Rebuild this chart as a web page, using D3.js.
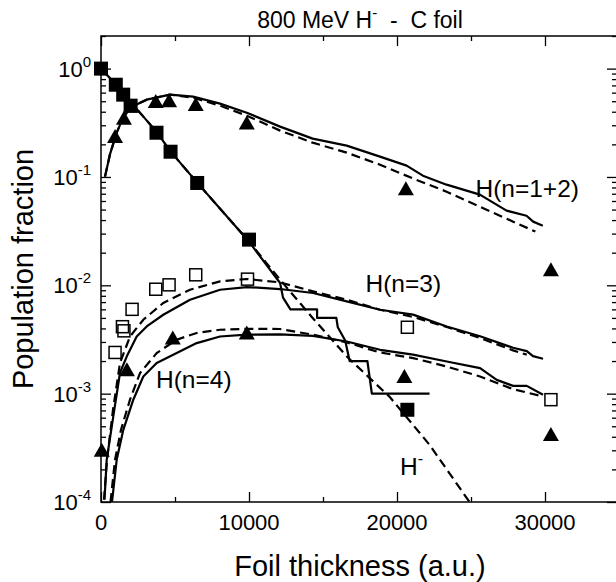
<!DOCTYPE html>
<html>
<head>
<meta charset="utf-8">
<script src="https://cdn.jsdelivr.net/npm/d3@7"></script>
<style>
  body { margin: 0; background: #fff; }
  svg { display: block; font-family: "Liberation Sans", Arial, sans-serif; }
</style>
</head>
<body>
<div id="chart"></div>
<script>
// measured points [thickness, fraction]
const hMinusPts = [[0, 1.0], [1000, 0.71], [1500, 0.575], [2000, 0.455], [3750, 0.256], [4700, 0.171], [6500, 0.088], [10000, 0.0264], [20700, 7.1e-4]];
const n12Pts = [[950, 0.236], [1550, 0.349], [2050, 0.449], [3700, 0.496], [4600, 0.506], [6400, 0.466], [9850, 0.315], [20600, 0.078], [30400, 0.0139]];
const n3Pts = [[950, 2.4e-3], [1450, 4.15e-3], [1550, 3.8e-3], [2100, 6.0e-3], [3700, 9.2e-3], [4600, 0.0101], [6400, 0.0125], [9900, 0.0114], [20700, 4.1e-3], [30400, 8.8e-4]];
const n4Pts = [[50, 3.0e-4], [1750, 1.66e-3], [4850, 3.26e-3], [9850, 3.63e-3], [20500, 1.44e-3], [30400, 4.2e-4]];

// calculated curves
const hMinusSolid = [[0, 1.0], [950, 0.727], [1550, 0.588], [2100, 0.475], [3800, 0.2565], [4650, 0.175], [6500, 0.0887], [9950, 0.0258], [12100, 0.0105], [12300, 0.0077], [12800, 0.006], [14600, 0.006], [14600, 0.005], [15900, 0.005], [16000, 0.0041], [16500, 0.0031], [16800, 0.002], [18000, 0.002], [18300, 0.001], [22200, 0.001]];
const hMinusDashed = [[0, 1.0], [950, 0.727], [1550, 0.588], [2100, 0.475], [3800, 0.2565], [4650, 0.175], [6500, 0.0887], [9950, 0.0258], [12100, 0.01127], [14300, 5.0e-3], [16700, 2.14e-3], [19500, 9.35e-4], [22200, 3.37e-4], [24900, 1.0e-4]];
const n12Solid = [[270, 0.1007], [600, 0.1607], [1060, 0.2565], [1500, 0.3528], [2070, 0.4457], [3090, 0.5173], [4660, 0.575], [6220, 0.551], [8040, 0.475], [9850, 0.392], [12100, 0.2914], [14300, 0.2259], [16600, 0.1945], [18850, 0.154], [20650, 0.1272], [21750, 0.1028], [23350, 0.0849], [25600, 0.0687], [27400, 0.0489], [28750, 0.0439], [29200, 0.0387], [29850, 0.0355]];
const n12Dashed = [[270, 0.1007], [600, 0.1607], [1060, 0.2565], [1500, 0.3528], [2070, 0.4457], [3090, 0.5173], [4660, 0.575], [6220, 0.54], [8040, 0.455], [9850, 0.368], [12100, 0.2677], [14300, 0.2074], [16600, 0.1677], [18850, 0.1299], [21100, 0.0965], [23350, 0.0732], [25600, 0.0532], [27850, 0.0387], [29350, 0.0313]];
const n3Solid = [[236, 1.05e-4], [385, 2.45e-4], [831, 6.16e-4], [1284, 1.56e-3], [1737, 2.2e-3], [2412, 3.37e-3], [3088, 4.17e-3], [4210, 5.35e-3], [6014, 7.36e-3], [8041, 9.1e-3], [9845, 9.64e-3], [12095, 9.24e-3], [14325, 8.49e-3], [16602, 7.1e-3], [18854, 5.95e-3], [21084, 5.36e-3], [23362, 4.17e-3], [25613, 3.39e-3], [27843, 2.65e-3], [28769, 2.47e-3], [29190, 2.22e-3], [29866, 2.1e-3]];
const n3Dashed = [[203, 1.05e-4], [405, 2.45e-4], [811, 7.1e-4], [1284, 1.92e-3], [1959, 3.37e-3], [2858, 4.81e-3], [4210, 6.87e-3], [6014, 9.1e-3], [8041, 0.01087], [9845, 0.01143], [12095, 0.01064], [14325, 8.79e-3], [16602, 7.36e-3], [18854, 5.95e-3], [21084, 5.1e-3], [23362, 4.12e-3], [25613, 3.26e-3], [27843, 2.51e-3], [28769, 2.29e-3]];
const n4Solid = [[743, 1.0e-4], [1061, 2.45e-4], [1507, 4.64e-4], [2183, 8.79e-4], [2858, 1.44e-3], [3764, 1.92e-3], [5115, 2.37e-3], [6466, 2.93e-3], [8041, 3.37e-3], [9845, 3.5e-3], [12095, 3.53e-3], [14325, 3.42e-3], [16602, 3.03e-3], [18854, 2.54e-3], [21084, 2.29e-3], [23362, 1.98e-3], [25613, 1.72e-3], [26738, 1.34e-3], [27843, 1.18e-3], [28769, 1.18e-3], [29866, 9.77e-4]];
const n4Dashed = [[642, 1.0e-4], [946, 2.45e-4], [1351, 4.64e-4], [1959, 8.79e-4], [2635, 1.55e-3], [3764, 2.37e-3], [5115, 3.15e-3], [6466, 3.63e-3], [8041, 3.89e-3], [9845, 3.97e-3], [12095, 3.95e-3], [14325, 3.5e-3], [16602, 2.97e-3], [18854, 2.4e-3], [21084, 2.13e-3], [23362, 1.78e-3], [25613, 1.44e-3], [27843, 1.1e-3], [29663, 9.57e-4]];

// axis ticks and curve labels
const xMajorTicks = [0, 10000, 20000, 30000];
const xMinorTicks = [5000, 15000, 25000];
const yExponents = [0, -1, -2, -3, -4];
const curveLabels = [
  { x: 25300, y: 0.0658, main: "H(n=1+2)", sup: "" },
  { x: 17870, y: 8.73e-3, main: "H(n=3)", sup: "" },
  { x: 3716, y: 1.13e-3, main: "H(n=4)", sup: "" },
  { x: 20200, y: 1.78e-4, main: "H", sup: "-" }
];

//#region Setup
const width = 616, height = 582;
const plot = { left: 101, right: 619, top: 36, bottom: 502 };
const nb = "\u00a0";

const svg = d3.select("#chart").append("svg")
  .attr("width", width)
  .attr("height", height);

const x = d3.scaleLinear().domain([0, 35000]).range([plot.left, plot.right]);
const y = d3.scaleLog().domain([1e-4, 2]).range([plot.bottom, plot.top]);

const yMinorTicks = [];
yExponents.forEach(e => {
  for (let m = 2; m <= 9; m++) {
    const v = m * Math.pow(10, e);
    if (v <= 2) yMinorTicks.push(v);
  }
});
//#endregion

//#region Axes (ticks inward, labels drawn separately)
function tidy(g) {
  g.select(".domain").remove();
  g.selectAll(".tick line").attr("stroke", "#000").attr("stroke-width", 1.3);
  g.selectAll(".tick text").remove();
}

svg.append("g").attr("transform", `translate(0,${plot.bottom})`)
  .call(d3.axisBottom(x).tickValues(xMajorTicks).tickSize(-10)).call(tidy);
svg.append("g").attr("transform", `translate(0,${plot.bottom})`)
  .call(d3.axisBottom(x).tickValues(xMinorTicks).tickSize(-5)).call(tidy);
svg.append("g").attr("transform", `translate(0,${plot.top})`)
  .call(d3.axisTop(x).tickValues(xMajorTicks).tickSize(-10)).call(tidy);
svg.append("g").attr("transform", `translate(0,${plot.top})`)
  .call(d3.axisTop(x).tickValues(xMinorTicks).tickSize(-5)).call(tidy);

const yMajor = yExponents.map(e => Math.pow(10, e));
svg.append("g").attr("transform", `translate(${plot.left},0)`)
  .call(d3.axisLeft(y).tickValues(yMajor).tickSize(-10)).call(tidy);
svg.append("g").attr("transform", `translate(${plot.left},0)`)
  .call(d3.axisLeft(y).tickValues(yMinorTicks).tickSize(-5)).call(tidy);
svg.append("g").attr("transform", `translate(${plot.right},0)`)
  .call(d3.axisRight(y).tickValues(yMajor).tickSize(-12)).call(tidy);
svg.append("g").attr("transform", `translate(${plot.right},0)`)
  .call(d3.axisRight(y).tickValues(yMinorTicks).tickSize(-7)).call(tidy);

svg.append("rect")
  .attr("x", plot.left).attr("y", plot.top)
  .attr("width", plot.right - plot.left).attr("height", plot.bottom - plot.top)
  .attr("fill", "none").attr("stroke", "#000").attr("stroke-width", 1.5);

svg.append("g").selectAll("text")
  .data(xMajorTicks)
  .enter().append("text")
  .attr("x", d => x(d))
  .attr("y", plot.bottom + 28)
  .attr("text-anchor", "middle")
  .style("font-size", "22px")
  .text(d => d);

const yLabels = svg.append("g").selectAll("text")
  .data(yExponents)
  .enter().append("text")
  .attr("x", 91)
  .attr("y", d => y(Math.pow(10, d)) + 8)
  .attr("text-anchor", "end")
  .style("font-size", "22px");
yLabels.append("tspan").text("10");
yLabels.append("tspan").attr("dy", -10).style("font-size", "15px").text(d => d);
//#endregion

//#region Curves
svg.append("clipPath").attr("id", "plot-clip")
  .append("rect")
  .attr("x", plot.left).attr("y", plot.top)
  .attr("width", plot.right - plot.left).attr("height", plot.bottom - plot.top);

const line = d3.line().x(d => x(d[0])).y(d => y(d[1]));
const curves = svg.append("g").attr("clip-path", "url(#plot-clip)");

[hMinusSolid, n12Solid, n3Solid, n4Solid].forEach(c => {
  curves.append("path").attr("d", line(c))
    .attr("fill", "none").attr("stroke", "#000").attr("stroke-width", 2.2)
    .attr("stroke-linejoin", "round");
});
[hMinusDashed, n12Dashed, n3Dashed, n4Dashed].forEach(c => {
  curves.append("path").attr("d", line(c))
    .attr("fill", "none").attr("stroke", "#000").attr("stroke-width", 2.2)
    .attr("stroke-dasharray", "9,5");
});
//#endregion

//#region Markers
const markers = svg.append("g");
const sq = 14, osq = 12;

markers.selectAll("rect.filled")
  .data(hMinusPts).enter().append("rect")
  .attr("class", "filled")
  .attr("x", d => x(d[0]) - sq / 2).attr("y", d => y(d[1]) - sq / 2)
  .attr("width", sq).attr("height", sq)
  .attr("fill", "#000");

markers.selectAll("rect.open")
  .data(n3Pts).enter().append("rect")
  .attr("class", "open")
  .attr("x", d => x(d[0]) - osq / 2).attr("y", d => y(d[1]) - osq / 2)
  .attr("width", osq).attr("height", osq)
  .attr("fill", "none").attr("stroke", "#000").attr("stroke-width", 1.5);

markers.selectAll("path.tri")
  .data(n12Pts.concat(n4Pts)).enter().append("path")
  .attr("class", "tri")
  .attr("d", "M0,-7.5L8,6.5L-8,6.5Z")
  .attr("transform", d => `translate(${x(d[0])},${y(d[1])})`)
  .attr("fill", "#000");
//#endregion

//#region Curve labels
const labels = svg.append("g").selectAll("text")
  .data(curveLabels)
  .enter().append("text")
  .attr("x", d => x(d.x))
  .attr("y", d => y(d.y))
  .style("font-size", "24.5px");
labels.append("tspan").text(d => d.main);
labels.append("tspan").attr("dy", -11).style("font-size", "16px").text(d => d.sup);
//#endregion

//#region Titles
const title = svg.append("text")
  .attr("x", (plot.left + plot.right) / 2)
  .attr("y", 28)
  .attr("text-anchor", "middle")
  .style("font-size", "23px");
title.append("tspan").text("800 MeV H");
title.append("tspan").attr("dy", -10).style("font-size", "15px").text("-");
title.append("tspan").attr("dy", 10).text(`${nb}${nb}-${nb}${nb}C foil`);

svg.append("text")
  .attr("x", (plot.left + plot.right) / 2)
  .attr("y", 576)
  .attr("text-anchor", "middle")
  .style("font-size", "29px")
  .text("Foil thickness (a.u.)");

svg.append("text")
  .attr("transform", `translate(33,${(plot.top + plot.bottom) / 2}) rotate(-90)`)
  .attr("text-anchor", "middle")
  .style("font-size", "29px")
  .text("Population fraction");
//#endregion
</script>
</body>
</html>
